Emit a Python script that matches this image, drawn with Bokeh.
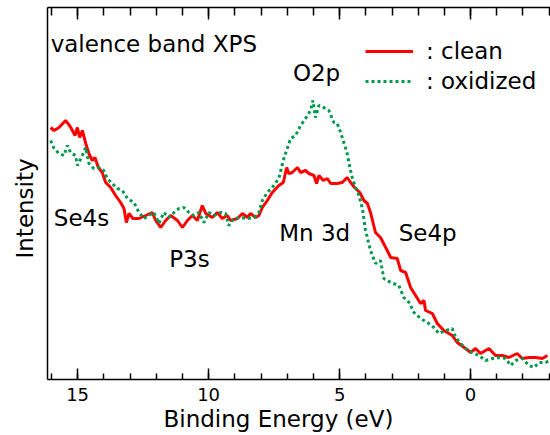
from bokeh.plotting import figure
from bokeh.models import (Range1d, LinearAxis, FixedTicker, Label, Legend, LegendItem,
                          Title, CustomJSTickFormatter)
from bokeh.embed import file_html
from bokeh.resources import INLINE

# ---- data (binding energy in eV, intensity in arbitrary units) ----
clean_be = [16.03, 15.90, 15.71, 15.46, 15.31, 15.20, 15.10, 15.01, 14.92, 14.82,
            14.69, 14.57, 14.44, 14.34, 14.21, 14.06, 13.93, 13.74, 13.55, 13.36,
            13.23, 13.14, 13.04, 12.89, 12.66, 12.40, 12.15, 12.02, 11.83, 11.64,
            11.45, 11.19, 11.00, 10.81, 10.62, 10.43, 10.24, 10.11, 9.86, 9.67,
            9.48, 9.29, 9.16, 8.90, 8.71, 8.52, 8.40, 8.21, 8.08, 7.95,
            7.76, 7.57, 7.32, 7.15, 7.02, 6.94, 6.81, 6.61, 6.49, 6.30,
            6.17, 5.98, 5.88, 5.79, 5.62, 5.47, 5.34, 5.09, 4.90, 4.71,
            4.58, 4.43, 4.23, 4.07, 3.94, 3.82, 3.63, 3.44, 3.24, 3.05,
            2.80, 2.67, 2.48, 2.29, 2.10, 1.91, 1.78, 1.72, 1.46, 1.27,
            1.02, 0.70, 0.51, 0.19, 0.00, -0.19, -0.38, -0.70, -0.95, -1.21,
            -1.46, -1.78, -1.97, -2.23, -2.48, -2.74, -2.93]
clean_int = [252, 249, 252, 259, 254, 249, 244, 252, 242, 249,
             236, 226, 219, 222, 212, 207, 197, 192, 184, 177,
             171, 157, 166, 161, 161, 164, 167, 159, 152, 159,
             164, 159, 152, 159, 164, 159, 174, 166, 162, 167,
             161, 164, 159, 161, 166, 162, 166, 162, 164, 172,
             179, 187, 194, 197, 212, 206, 207, 212, 207, 209,
             206, 204, 196, 204, 199, 201, 196, 196, 197, 202,
             197, 192, 187, 179, 176, 167, 147, 142, 132, 122,
             121, 109, 107, 92, 84, 76, 79, 69, 66, 56,
             49, 44, 37, 31, 27, 31, 26, 31, 24, 24,
             22, 26, 21, 22, 22, 21, 24]

oxid_be = [16.03, 15.90, 15.71, 15.52, 15.39, 15.27, 15.08, 15.01, 14.82, 14.69,
           14.57, 14.38, 14.19, 14.00, 13.87, 13.68, 13.48, 13.29, 13.10, 12.85,
           12.66, 12.47, 12.28, 12.09, 11.90, 11.71, 11.52, 11.32, 11.13, 10.94,
           10.75, 10.56, 10.37, 10.18, 9.99, 9.80, 9.54, 9.35, 9.23, 9.03,
           8.78, 8.52, 8.27, 8.08, 7.95, 7.76, 7.57, 7.32, 7.13, 7.00,
           6.87, 6.68, 6.49, 6.30, 6.11, 6.02, 5.92, 5.79, 5.60, 5.41,
           5.22, 5.09, 4.96, 4.84, 4.71, 4.61, 4.52, 4.39, 4.26, 4.13,
           4.01, 3.82, 3.63, 3.44, 3.31, 3.05, 2.74, 2.55, 2.35, 2.16,
           1.91, 1.65, 1.40, 1.21, 0.95, 0.70, 0.57, 0.38, 0.19, -0.06,
           -0.32, -0.57, -0.83, -1.08, -1.34, -1.53, -1.72, -1.97, -2.23, -2.42,
           -2.61, -2.86, -3.02]
oxid_int = [239, 231, 226, 224, 234, 227, 224, 214, 224, 232,
            216, 211, 212, 209, 201, 196, 191, 189, 181, 177,
            167, 161, 164, 167, 156, 167, 162, 167, 171, 172,
            167, 164, 167, 157, 167, 164, 167, 166, 154, 161,
            162, 161, 162, 167, 179, 187, 192, 201, 221, 231,
            241, 244, 254, 261, 269, 279, 262, 274, 272, 269,
            257, 256, 247, 237, 226, 212, 202, 192, 184, 171,
            149, 129, 116, 119, 101, 97, 94, 82, 77, 67,
            61, 57, 52, 46, 49, 51, 42, 36, 31, 27,
            24, 19, 21, 22, 21, 14, 19, 21, 14, 12,
            17, 17, 19]

major_ticks = [15, 10, 5, 0]
minor_ticks = list(range(-3, 17))
series_labels = [": clean", ": oxidized"]
peak_labels = ["Se4s", "P3s", "Mn 3d", "Se4p", "O2p"]
peak_x = [14.85, 10.73, 5.95, 1.64, 5.88]
peak_y = [162, 121, 147, 147, 307]

FONT = "DejaVu Sans"
RED = "#FF0000"
GREEN = "#00994D"

p = figure(width=550, height=435, output_backend="svg", toolbar_location=None,
           x_range=Range1d(16.15, -3.05), y_range=Range1d(0, 372),
           x_axis_location=None, y_axis_location=None,
           min_border_left=47, min_border_right=0, min_border_top=7,
           min_border_bottom=56)
p.outline_line_color = None
p.grid.visible = False
p.background_fill_color = "white"
p.border_fill_color = "white"

r_clean = p.line(clean_be, clean_int, line_color=RED, line_width=3)
r_oxid = p.line(oxid_be, oxid_int, line_color=GREEN, line_width=3, line_dash="3 3")

def make_x_axis(show_labels, major_in, minor_in):
    ax = LinearAxis(ticker=FixedTicker(ticks=major_ticks, minor_ticks=minor_ticks))
    ax.axis_line_color = "black"
    ax.axis_line_width = 1.5
    ax.major_tick_in = major_in
    ax.major_tick_out = 0
    ax.minor_tick_in = minor_in
    ax.minor_tick_out = 0
    ax.major_tick_line_width = 1.5
    ax.minor_tick_line_width = 1.5
    ax.major_tick_line_color = "black"
    ax.minor_tick_line_color = "black"
    if show_labels:
        ax.major_label_text_font = FONT
        ax.major_label_text_font_size = "18px"
        ax.major_label_text_color = "black"
        ax.major_label_standoff = 8
    else:
        ax.formatter = CustomJSTickFormatter(code="return ''")
        ax.major_label_standoff = 0
    return ax

bottom = make_x_axis(True, 11, 6)
p.add_layout(bottom, "below")
top = make_x_axis(False, 12, 8)
p.add_layout(top, "above")

left = LinearAxis(ticker=FixedTicker(ticks=[]))
left.axis_line_color = "black"
left.axis_line_width = 1.5
left.major_tick_out = 0
left.minor_tick_out = 0
left.major_label_standoff = 0
left.formatter = CustomJSTickFormatter(code="return ''")
p.add_layout(left, "left")

# axis titles
p.add_layout(Title(text="Binding Energy (eV)", align="left", offset=116,
                   text_font=FONT, text_font_size="23px", text_font_style="normal",
                   text_color="black", standoff=0), "below")
p.add_layout(Title(text="Intensity", align="left", offset=121,
                   text_font=FONT, text_font_size="23px", text_font_style="normal",
                   text_color="black", standoff=19), "left")

p.add_layout(Label(x=16.03, y=336, text="valence band XPS", text_font=FONT,
                   text_font_size="23px", text_align="left", text_baseline="middle",
                   text_color="black"))

for t, xx, yy in zip(peak_labels, peak_x, peak_y):
    p.add_layout(Label(x=xx, y=yy, text=t, text_font=FONT, text_font_size="23px",
                       text_align="center", text_baseline="middle", text_color="black"))

legend = Legend(items=[LegendItem(label=series_labels[0], renderers=[r_clean]),
                       LegendItem(label=series_labels[1], renderers=[r_oxid])],
                location=(318, 285))
legend.background_fill_alpha = 0
legend.border_line_color = None
legend.padding = 0
legend.margin = 0
legend.spacing = 4
legend.glyph_width = 48
legend.glyph_height = 20
legend.label_height = 20
legend.label_standoff = 13
legend.label_text_font = FONT
legend.label_text_font_size = "23px"
legend.label_text_color = "black"
p.add_layout(legend, "center")

open("out.html", "w").write(file_html(p, INLINE))
